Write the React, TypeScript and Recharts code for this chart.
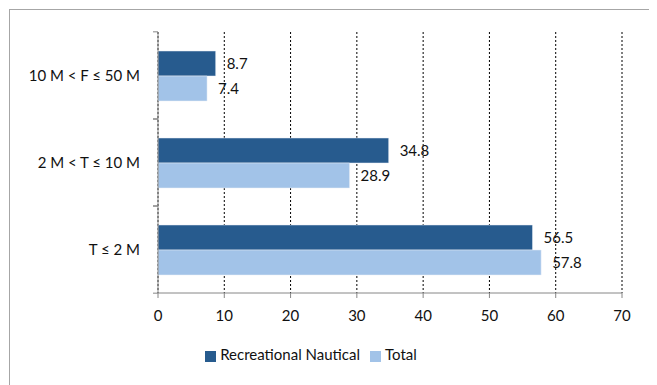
import React from "react";
import { BarChart, Bar, XAxis, YAxis, CartesianGrid, Legend, LabelList } from "recharts";

const categories = ["10 M < F ≤ 50 M", "2 M < T ≤ 10 M", "T ≤ 2 M"];
const recreationalNautical = [8.7, 34.8, 56.5];
const total = [7.4, 28.9, 57.8];
const xTicks = [0, 10, 20, 30, 40, 50, 60, 70];

const data = categories.map((name, i) => ({
  name,
  recreational: recreationalNautical[i],
  total: total[i],
}));

const FONT = "Lato, 'Open Sans', sans-serif";
const FS = 15;
const AXIS_GREY = "#868686";
const PLOT_TOP = 22;
const PLOT_BOTTOM = 284;
const BAND = (PLOT_BOTTOM - PLOT_TOP) / categories.length;

const CategoryTick = (props: any) => {
  const { x, y, payload } = props;
  return (
    <g>
      <line x1={x - 5} x2={x} y1={y - BAND / 2} y2={y - BAND / 2} stroke={AXIS_GREY} />
      <line x1={x - 5} x2={x} y1={y + BAND / 2} y2={y + BAND / 2} stroke={AXIS_GREY} />
      <text x={x - 18} y={y} dy={5} textAnchor="end" fontSize={FS} fill="#111" fontFamily={FONT}>
        {payload.value}
      </text>
    </g>
  );
};

const App = () => {
  return (
    <div
      style={{
        marginLeft: 1,
        marginTop: 1,
        width: 642,
        height: 380,
        border: "1px solid #a6a6a6",
        fontFamily: FONT,
      }}
    >
      <BarChart
        width={642}
        height={381}
        data={data}
        layout="vertical"
        margin={{ top: PLOT_TOP, right: 30, left: 0, bottom: 0 }}
        barGap={0}
        barSize={25}
      >
        <CartesianGrid horizontal={false} stroke="#000" strokeDasharray="2 2" />
        <XAxis
          type="number"
          domain={[0, 70]}
          ticks={xTicks}
          height={30}
          stroke={AXIS_GREY}
          tickSize={5}
          tickMargin={12}
          tick={{ fill: "#111", fontSize: FS, fontFamily: FONT }}
        />
        <YAxis
          type="category"
          dataKey="name"
          width={148}
          stroke={AXIS_GREY}
          tickLine={false}
          tickSize={0}
          tickMargin={0}
          tick={<CategoryTick />}
        />
        <Legend
          verticalAlign="bottom"
          height={46}
          iconType="square"
          iconSize={11}
          wrapperStyle={{ fontSize: FS, paddingTop: 22 }}
          formatter={(v: string) => <span style={{ color: "#111" }}>{v}</span>}
        />
        <Bar dataKey="recreational" name="Recreational Nautical" fill="#275b8e" stroke="#e8eef6" strokeWidth={0.5} isAnimationActive={false}>
          <LabelList dataKey="recreational" position="right" offset={11} fill="#111" fontSize={FS} fontFamily={FONT} />
        </Bar>
        <Bar dataKey="total" name="Total" fill="#a2c3e8" stroke="#e8eef6" strokeWidth={0.5} isAnimationActive={false}>
          <LabelList dataKey="total" position="right" offset={11} fill="#111" fontSize={FS} fontFamily={FONT} />
        </Bar>
      </BarChart>
    </div>
  );
};

export default App;
